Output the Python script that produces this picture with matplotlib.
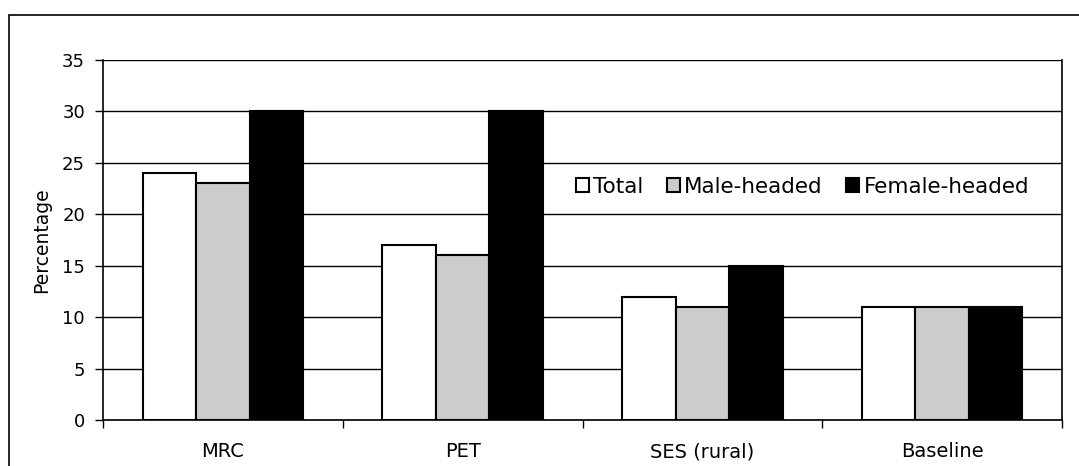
import matplotlib
matplotlib.use("Agg")
import matplotlib.pyplot as plt
import numpy as np
from matplotlib.patches import Rectangle

categories = ["MRC", "PET", "SES (rural)", "Baseline"]
series_names = ["Total", "Male-headed", "Female-headed"]
total = [24, 17, 12, 11]
male = [23, 16, 11, 11]
female = [30, 30, 15, 11]
yticks = [0, 5, 10, 15, 20, 25, 30, 35]

colors = ["#ffffff", "#cccccc", "#000000"]

W, H = 1079, 466
fig = plt.figure(figsize=(W / 100, H / 100), dpi=100)
plt.rcParams['font.family'] = ['DejaVu Sans']

# outer frame
fig.patches.append(Rectangle((9 / W, -0.1), 1.2, (H - 15) / H + 0.1,
                             transform=fig.transFigure, fill=False,
                             edgecolor="black", linewidth=1.2))

ax = fig.add_axes([103 / W, 1 - 420 / H, (1062 - 103) / W, (420 - 60) / H])

x = np.arange(len(categories))
bw = 0.223
data = [total, male, female]
for i, (vals, c, name) in enumerate(zip(data, colors, series_names)):
    ax.bar(x + (i - 1) * bw, vals, width=bw, color=c, edgecolor="black",
           linewidth=1.5, label=name, zorder=3)

ax.set_xlim(-0.5, len(categories) - 0.5)
ax.set_ylim(0, 35)
ax.set_yticks(yticks)
ax.set_yticklabels([str(v) for v in yticks], fontsize=13)
ax.yaxis.grid(True, color="black", linewidth=1.0, zorder=0)
ax.set_axisbelow(True)

ax.set_xticks(np.arange(-0.5, len(categories), 1.0))
ax.set_xticklabels([])
ax.set_xticks(x, minor=True)
ax.set_xticklabels(categories, minor=True, fontsize=14)
ax.tick_params(axis="x", which="minor", length=0, pad=16)
ax.tick_params(axis="x", which="major", length=6, width=1, direction="out")
ax.tick_params(axis="y", length=6, width=1, direction="out", pad=7)

for s in ["left", "bottom", "right"]:
    ax.spines[s].set_linewidth(1.2)
ax.spines["top"].set_visible(False)

ax.set_ylabel("Percentage", fontsize=13.5, labelpad=8)

leg = ax.legend(loc="upper left", bbox_to_anchor=((567 - 103) / (1062 - 103), (420 - 168) / 360),
                ncol=3, frameon=False, fontsize=15.5, handlelength=0.6,
                handleheight=0.6, handletextpad=0.2, columnspacing=1.1,
                borderaxespad=0)

fig.savefig("out.png", dpi=100)
